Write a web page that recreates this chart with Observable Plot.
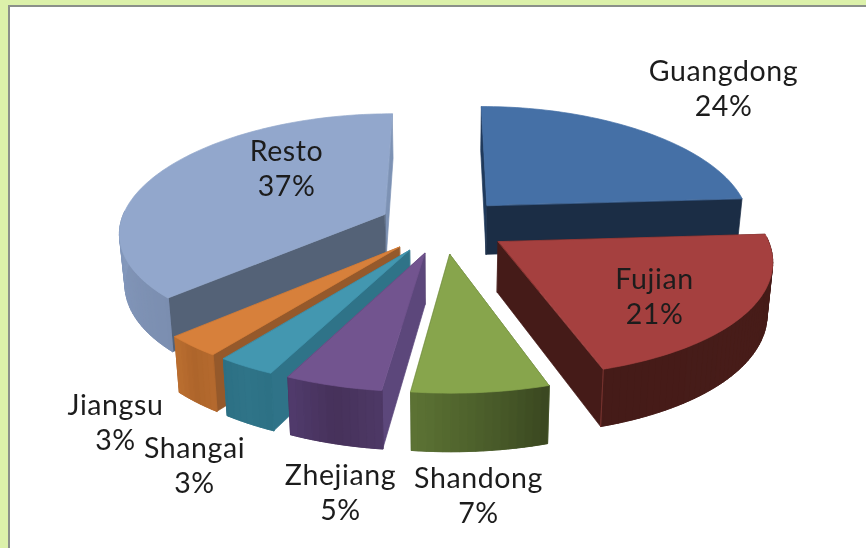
<!DOCTYPE html>
<html>
<head>
<meta charset="utf-8">
<script src="https://cdn.jsdelivr.net/npm/d3@7"></script>
<script src="https://cdn.jsdelivr.net/npm/@observablehq/plot@0.6"></script>
<style>
  html, body { margin: 0; padding: 0; width: 866px; height: 548px; overflow: hidden; background: #dcf1aa; }
  #frame { position: absolute; left: 8px; top: 5px; right: 0; bottom: 0; background: #fff;
           border-top: 2px solid #8b908a; border-left: 2px solid #8b908a; }
  #chart { position: absolute; left: 0; top: 0; filter: blur(0.45px); }
</style>
</head>
<body>
<div id="frame"></div>
<div id="chart"></div>
<script>
// Data, clockwise from twelve o'clock
const regions = ["Guangdong", "Fujian", "Shandong", "Zhejiang", "Shangai", "Jiangsu", "Resto"];
const shares  = [24, 21, 7, 5, 3, 3, 37];

// Styling, by region: top face, radial walls, stops along the rim
const topColors  = ["#4570a6", "#a5403f", "#87a54c", "#72548f", "#4397b0", "#d7803b", "#92a7cc"];
const startWalls = ["#1f3a5c", "#451b18", "#4a5e2a", "#5c477b", "#2f7388", "#95592b", "#546277"];
const endWalls   = ["#1b2d45", "#451b18", "#4a5e2a", "#4b3660", "#2e7286", "#b56a2e", "#7d92b4"];
const cornerEdges = [null, "#78332f", null, null, null, null, null];
const rimStops   = [
  ["#1b2d45", "#1b2d45"],
  ["#451b18", "#471c19", "#451b18"],
  ["#3a4720", "#4c5f2b", "#5d7334"],
  ["#4e3966", "#46315a", "#513b6c"],
  ["#2d7084", "#2f7488", "#2d7084"],
  ["#b56a2e", "#ae652b", "#bb6f30"],
  ["#7b8eb0", "#8ba0c4", "#7f93b6"]
];
// Layout of the pseudo-3D view
const view = {cx: 443, cy: 225, rx: 265, ry: 115, explode: 0.245, persp: 0.118, perspX: 0.025, depth: 50, shrink: 0.983};
const labelX = [723, 654, 478, 340, 194, 115, 286];
const labelY = [ 87, 295, 494, 491, 464, 421, 167];
const drawOrder = [6, 0, 1, 5, 4, 3, 2];

const rad = d => d * Math.PI / 180;
const total = d3.sum(shares);
const cum = d3.cumsum(shares);
const spans = shares.map((s, i) => {
  const a1 = cum[i] / total * 360, a0 = a1 - s / total * 360;
  return {a0, a1, mid: (a0 + a1) / 2};
});

// Projects ground position (radius r, angle a) of slice i, at height level 0 (top) or 1 (bottom)
function project(i, a, r, level) {
  const m = rad(spans[i].mid), t = rad(a);
  const u = view.explode * Math.sin(m) + r * Math.sin(t);
  const v = -view.explode * Math.cos(m) - r * Math.cos(t);
  const s = 1 / (1 - view.persp * v);
  const k = level ? view.shrink : 1;
  return {
    x: view.cx + view.rx * u * s * (1 + view.perspX * v) * k,
    y: view.cy + view.ry * v * s + (level ? view.depth * s : 0)
  };
}

const faces = [];
let uid = 0;
function addFace(points, color) {
  const id = uid++;
  for (const p of points) faces.push({x: p.x, y: p.y, id, color});
}
function wall(i, a) {
  return [project(i, a, 0, 0), project(i, a, 1, 0), project(i, a, 1, 1), project(i, a, 0, 1)];
}
const arcAngles = (a0, a1, step) => d3.range(0, Math.ceil((a1 - a0) / step) + 1)
  .map(j => Math.min(a1, a0 + j * step));

for (const i of drawOrder) {
  const {a0, a1, mid} = spans[i];
  // the wall that faces the viewer goes on top of the one that faces away
  if (mid < 180) {
    addFace(wall(i, a0), startWalls[i]);
    addFace(wall(i, a1), endWalls[i]);
  } else {
    addFace(wall(i, a1), endWalls[i]);
    addFace(wall(i, a0), startWalls[i]);
  }
  // rim, only where it faces the viewer
  const ramp = d3.scaleLinear().domain(d3.quantize(d3.interpolate(a0, a1), rimStops[i].length)).range(rimStops[i]);
  const rim = arcAngles(a0, a1, 1.5);
  const visible = rim.filter(a => Math.cos(rad(a)) <= 0.05);
  if (visible.length > 1) {
    // solid backing so that neighbouring rim strips leave no seams
    addFace([...visible.map(a => project(i, a, 1, 0)), ...visible.slice().reverse().map(a => project(i, a, 1, 1))],
            ramp((visible[0] + visible[visible.length - 1]) / 2));
    for (let j = 0; j < visible.length - 1; j++) {
      const b0 = visible[j], b1 = visible[j + 1];
      addFace([project(i, b0, 1, 0), project(i, b1, 1, 0), project(i, b1, 1, 1), project(i, b0, 1, 1)],
              ramp((b0 + b1) / 2));
    }
  }
  if (cornerEdges[i]) addFace([project(i, a1, 1, 0), project(i, a1, 1, 1)], cornerEdges[i]);
  addFace([project(i, a0, 0, 0), ...rim.map(a => project(i, a, 1, 0))], topColors[i]);
}

const labels = regions.map((name, i) => ({text: `${name}\n${shares[i]}%`, x: labelX[i], y: labelY[i]}));

const plot = Plot.plot({
  width: 866, height: 548,
  margin: 0,
  style: {background: "transparent", letterSpacing: "0.6px"},
  x: {domain: [0, 866], range: [0, 866], axis: null},
  y: {domain: [0, 548], range: [0, 548], axis: null},
  color: {type: "identity"},
  marks: [
    Plot.line(faces, {x: "x", y: "y", z: "id", fill: "color", stroke: "color", strokeWidth: 0.7, curve: "linear-closed"}),
    Plot.text(labels, {
      x: "x", y: "y", text: "text", fill: "#1c1c1c",
      fontFamily: "Lato", fontSize: 28.5, lineHeight: 1.23, textAnchor: "middle"
    })
  ]
});
document.getElementById("chart").appendChild(plot);
</script>
</body>
</html>
